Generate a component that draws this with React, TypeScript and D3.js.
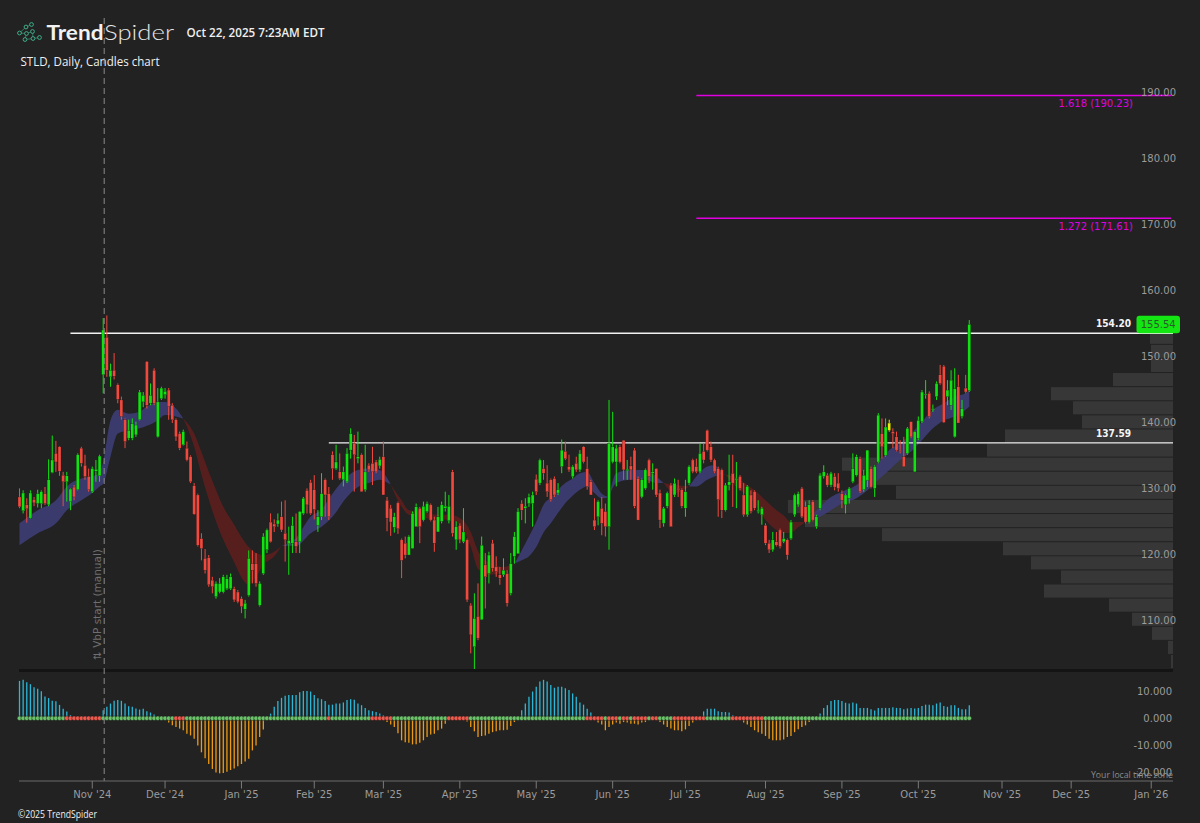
import React from 'react';
import * as d3 from 'd3';

const W = 1200;
const H = 823;

// trading calendar
const firstSession = '2024-10-04';
const lastCalendarDay = '2026-01-31';
const marketHolidays = [
  '2024-11-28', '2024-12-25', '2025-01-01', '2025-01-09', '2025-01-20', '2025-02-17', '2025-04-18',
  '2025-05-26', '2025-06-19', '2025-07-04', '2025-09-01', '2025-11-27', '2025-12-25', '2026-01-01', '2026-01-19',
];

type Bar = [number, number, number, number]; // open, high, low, close

const oct2024: Bar[] = [
  [129.4, 130.7, 127.7, 127.9], [127.3, 130.4, 126.9, 130.0], [128.2, 129.2, 125.5, 127.6], [126.2, 130.4, 126.1, 130.0], [129.0, 129.4, 128.0, 128.5],
  [128.4, 130.5, 127.8, 129.9], [128.4, 130.4, 127.7, 130.2], [129.9, 130.9, 128.2, 128.4], [128.2, 135.1, 128.0, 132.0], [133.1, 138.7, 133.0, 135.0],
  [136.0, 137.9, 133.2, 134.7], [137.0, 137.1, 132.6, 133.3], [132.7, 133.2, 128.0, 131.7], [131.7, 133.2, 128.7, 132.6], [128.7, 130.7, 127.4, 130.6],
  [130.9, 131.2, 128.9, 129.4], [130.5, 136.0, 130.4, 135.8], [136.8, 137.0, 134.0, 134.5], [134.2, 135.8, 132.0, 132.5], [132.5, 133.7, 130.2, 130.5],
];
const nov2024: Bar[] = [
  [130.2, 134.0, 130.0, 133.7], [133.3, 135.0, 131.7, 133.6], [132.6, 135.8, 131.7, 135.6], [147.9, 156.5, 145.1, 154.7], [153.6, 156.9, 147.6, 148.6],
  [147.6, 149.6, 146.1, 148.6], [148.6, 151.2, 147.2, 147.7], [146.4, 146.6, 143.6, 144.2], [144.1, 144.6, 141.1, 141.6], [141.1, 141.3, 136.8, 137.8],
  [138.3, 141.1, 138.0, 139.5], [138.3, 141.3, 138.0, 140.5], [138.8, 140.8, 138.5, 140.3], [141.1, 145.6, 141.0, 145.3], [143.8, 145.3, 143.0, 144.8],
  [149.9, 150.0, 142.8, 143.3], [143.6, 146.6, 143.3, 144.8], [148.6, 148.9, 143.3, 143.6], [138.5, 145.9, 138.4, 143.8], [144.3, 146.1, 144.1, 145.9],
];
const dec2024: Bar[] = [
  [144.9, 145.9, 144.3, 145.4], [145.6, 145.9, 141.1, 143.1], [143.3, 143.6, 140.6, 141.1], [141.1, 141.3, 137.9, 138.5], [139.0, 139.3, 136.5, 136.8],
  [137.3, 139.6, 137.2, 139.3], [136.8, 137.8, 134.8, 135.0], [135.5, 135.7, 131.5, 131.7], [131.1, 131.5, 126.7, 126.8], [129.7, 129.9, 121.9, 122.1],
  [123.1, 123.9, 119.8, 121.6], [120.1, 121.5, 117.8, 118.3], [120.2, 120.6, 115.8, 116.1], [116.8, 117.3, 114.8, 115.8], [114.3, 116.6, 114.0, 116.3],
  [115.0, 117.1, 114.8, 116.3], [115.0, 117.6, 114.8, 117.3], [115.5, 117.6, 115.3, 117.0], [115.5, 117.8, 115.3, 117.3], [115.5, 115.8, 113.5, 113.8],
  [115.0, 115.3, 113.3, 113.5],
];
const jan2025: Bar[] = [
  [114.0, 114.3, 111.8, 112.8], [112.4, 113.8, 111.0, 113.3], [114.5, 121.3, 114.3, 120.1], [119.3, 121.3, 116.3, 118.3], [119.3, 120.9, 115.8, 116.3],
  [113.0, 116.6, 112.8, 116.3], [117.8, 123.9, 117.6, 123.4], [121.4, 124.6, 120.9, 124.4], [125.6, 126.9, 122.5, 122.6], [125.3, 126.0, 124.1, 124.9],
  [125.3, 126.9, 124.9, 125.9], [126.4, 128.7, 124.1, 124.4], [123.9, 128.9, 119.6, 122.9], [122.3, 124.9, 117.6, 122.8], [122.4, 126.4, 120.9, 125.1],
  [122.6, 126.9, 120.9, 121.9], [122.6, 127.2, 120.9, 127.2], [126.9, 129.4, 126.7, 129.2], [130.4, 130.7, 126.9, 128.2], [131.6, 132.0, 126.7, 126.9],
];
const feb2025: Bar[] = [
  [130.5, 132.7, 126.0, 127.5], [125.1, 127.4, 124.1, 126.4], [126.4, 133.0, 125.9, 129.9], [132.0, 132.2, 126.4, 129.7], [129.9, 130.9, 125.9, 126.4],
  [135.8, 136.3, 132.0, 133.7], [133.7, 137.3, 133.5, 134.7], [133.2, 136.0, 132.0, 132.2], [132.0, 134.0, 131.0, 133.2], [131.7, 136.8, 131.5, 136.0],
  [136.5, 139.8, 135.2, 139.0], [137.5, 138.8, 130.2, 135.8], [135.2, 139.3, 134.5, 135.5], [135.8, 136.0, 130.2, 130.2], [130.5, 137.3, 130.2, 133.2],
  [134.2, 134.5, 133.2, 133.5], [134.5, 137.0, 131.2, 133.2], [134.7, 135.0, 133.0, 133.2], [134.1, 135.5, 133.7, 135.1],
];
const mar2025: Bar[] = [
  [135.5, 137.8, 129.7, 129.7], [128.9, 129.4, 124.2, 126.2], [127.7, 128.2, 123.5, 125.6], [124.8, 127.0, 124.0, 126.4], [128.5, 128.7, 123.8, 124.6],
  [122.9, 123.1, 117.1, 119.8], [122.4, 123.4, 120.1, 120.6], [120.6, 123.6, 120.6, 123.4], [121.6, 127.2, 121.6, 126.9], [124.9, 128.4, 124.9, 127.9],
  [127.7, 127.9, 122.4, 124.9], [125.9, 128.7, 125.7, 128.0], [127.2, 128.7, 127.0, 128.4], [128.2, 128.4, 125.7, 125.9], [125.9, 126.4, 121.1, 122.4],
  [124.1, 127.9, 124.1, 126.4], [125.7, 128.7, 125.4, 128.2], [127.7, 130.2, 127.2, 128.0], [125.8, 129.7, 125.4, 128.0], [133.2, 133.5, 123.4, 123.9],
  [122.9, 125.7, 121.4, 124.9],
];
const apr2025: Bar[] = [
  [125.1, 125.4, 122.4, 122.9], [122.6, 127.7, 122.4, 124.1], [122.9, 123.1, 113.5, 113.8], [113.0, 113.3, 105.7, 108.5], [106.7, 114.8, 103.2, 111.0],
  [111.3, 116.3, 107.7, 108.0], [110.8, 123.4, 110.8, 122.1], [119.1, 120.9, 112.5, 117.3], [117.8, 121.1, 116.3, 120.6], [122.4, 122.9, 118.1, 118.6],
  [118.8, 120.4, 117.3, 118.1], [117.6, 118.8, 116.1, 117.1], [117.6, 120.1, 117.3, 118.3], [117.8, 118.3, 112.8, 113.3], [114.8, 120.9, 114.5, 119.3],
  [120.4, 124.1, 119.3, 123.4], [120.8, 127.7, 120.8, 127.2], [128.4, 128.9, 125.9, 127.4], [127.7, 129.2, 125.4, 128.0], [128.4, 129.9, 127.9, 129.4],
  [128.4, 130.2, 124.9, 129.7],
];
const may2025: Bar[] = [
  [132.1, 132.8, 129.7, 130.2], [131.5, 135.2, 131.2, 135.0], [133.7, 135.0, 132.0, 133.0], [131.5, 134.2, 129.4, 130.2], [132.0, 132.2, 128.7, 129.0],
  [132.2, 132.5, 129.4, 129.7], [130.0, 131.5, 129.7, 130.5], [134.0, 138.1, 133.0, 136.5], [136.3, 137.8, 135.0, 135.2], [134.0, 135.8, 133.2, 133.5],
  [132.5, 134.2, 132.2, 134.0], [134.5, 135.5, 133.2, 133.5], [133.5, 136.5, 133.2, 136.0], [137.0, 137.1, 134.5, 134.7], [133.7, 135.5, 130.5, 131.0],
  [131.7, 132.0, 129.7, 129.7], [125.9, 129.2, 124.4, 124.9], [126.4, 128.9, 125.1, 128.7], [127.7, 129.4, 123.6, 125.4], [127.2, 128.4, 123.4, 124.9],
  [124.9, 144.1, 121.4, 137.5],
];
const jun2025: Bar[] = [
  [134.7, 142.3, 134.5, 137.0], [134.7, 137.3, 131.0, 136.8], [137.0, 137.3, 134.5, 134.7], [138.0, 138.0, 132.0, 133.5], [133.4, 135.0, 132.0, 133.6],
  [134.1, 135.5, 132.0, 133.5], [136.5, 136.8, 127.7, 128.0], [132.2, 132.5, 125.9, 125.9], [129.4, 132.2, 129.2, 132.0], [130.7, 133.7, 130.5, 133.5],
  [135.0, 135.2, 131.5, 132.5], [133.0, 134.5, 130.5, 133.2], [133.7, 133.7, 129.4, 129.7], [130.0, 130.5, 124.7, 125.9], [125.4, 127.9, 124.9, 127.7],
  [128.0, 130.2, 127.7, 130.0], [131.2, 131.5, 124.9, 124.9], [129.7, 132.2, 129.4, 131.5], [130.7, 132.0, 129.4, 130.5], [130.5, 130.7, 127.7, 128.0],
];
const jul2025: Bar[] = [
  [127.7, 132.0, 126.4, 130.2], [131.5, 134.2, 131.2, 134.0], [135.0, 135.2, 133.0, 133.2], [134.0, 135.2, 133.0, 133.2], [133.2, 137.5, 133.0, 136.0],
  [136.3, 137.5, 134.5, 135.0], [139.5, 139.6, 136.3, 136.5], [137.0, 137.8, 134.7, 135.0], [135.0, 135.2, 133.0, 133.2], [133.7, 134.0, 126.4, 129.0],
  [133.5, 133.7, 126.2, 127.4], [127.4, 131.5, 127.2, 131.2], [131.2, 135.8, 130.4, 131.7], [133.0, 135.8, 127.9, 131.5], [132.0, 134.7, 127.7, 132.2],
  [132.5, 132.7, 130.4, 130.7], [129.7, 131.5, 126.4, 126.7], [126.7, 131.2, 126.4, 131.0], [129.7, 130.4, 126.9, 127.2], [130.2, 130.4, 127.4, 127.7],
  [127.2, 128.9, 126.9, 127.4], [126.7, 127.9, 125.2, 127.7],
];
const aug2025: Bar[] = [
  [125.1, 125.4, 122.1, 122.4], [122.4, 122.9, 120.9, 121.4], [121.4, 124.1, 121.1, 122.9], [122.6, 124.1, 121.9, 122.1], [124.4, 124.6, 121.6, 121.9],
  [122.6, 124.1, 122.4, 123.1], [122.9, 123.1, 119.9, 120.6], [123.1, 125.9, 122.9, 125.6], [126.7, 129.9, 126.4, 129.7], [128.2, 130.2, 127.9, 129.9],
  [130.7, 130.9, 126.2, 126.4], [127.9, 128.7, 125.4, 125.6], [125.6, 128.9, 125.4, 128.2], [128.7, 128.9, 125.7, 125.9], [124.9, 126.7, 124.6, 126.4],
  [127.7, 133.0, 127.4, 132.7], [132.5, 134.2, 132.2, 133.2], [132.7, 133.0, 130.9, 131.2], [131.2, 133.2, 130.9, 133.0], [132.5, 133.0, 130.4, 130.9],
  [131.5, 133.0, 130.2, 130.7],
];
const sep2025: Bar[] = [
  [129.9, 130.4, 127.7, 128.9], [128.2, 129.9, 126.9, 129.7], [129.2, 130.9, 128.4, 130.7], [131.7, 136.0, 131.5, 133.7], [132.7, 135.8, 132.5, 135.5],
  [135.2, 135.5, 130.0, 130.2], [130.5, 133.5, 130.2, 132.7], [131.9, 136.5, 130.9, 136.5], [133.7, 134.0, 130.7, 130.9], [130.7, 134.2, 129.4, 134.0],
  [134.7, 142.1, 134.5, 141.8], [139.0, 141.3, 135.2, 137.0], [135.7, 141.3, 135.5, 140.0], [140.6, 141.1, 139.3, 139.5], [139.3, 139.8, 136.8, 139.0],
  [138.5, 139.3, 136.3, 136.5], [136.5, 138.0, 136.0, 136.3], [135.5, 138.5, 134.0, 134.0], [136.0, 140.0, 135.8, 139.8], [140.8, 140.8, 138.3, 138.5],
  [133.2, 139.3, 133.2, 139.3],
];
const oct2025: Bar[] = [
  [138.3, 141.6, 138.0, 141.0], [140.8, 145.6, 140.6, 145.3], [144.9, 147.1, 144.3, 145.0], [145.1, 145.4, 141.3, 141.6], [142.6, 143.4, 142.3, 142.8],
  [144.6, 146.9, 144.1, 146.6], [147.9, 149.4, 146.4, 146.6], [149.2, 149.4, 140.6, 140.7], [144.6, 147.1, 143.3, 145.6], [143.3, 148.6, 142.6, 147.1],
  [138.5, 148.9, 138.4, 145.8], [146.1, 147.9, 140.6, 140.6], [141.6, 144.1, 141.3, 142.8], [145.9, 147.9, 145.1, 145.3], [145.5, 156.2, 145.3, 155.54],
];

const candles: Bar[] = [
  ...oct2024, ...nov2024, ...dec2024, ...jan2025, ...feb2025, ...mar2025, ...apr2025,
  ...may2025, ...jun2025, ...jul2025, ...aug2025, ...sep2025, ...oct2025,
];
const yellowBars = [239];

// moving-average cloud, read at sample bars (fast / slow)
const bandBars = [
  0, 5, 10, 13, 17, 20, 22, 23, 25, 27, 30, 33, 35, 38, 40, 43, 45,
  48, 50, 53, 56, 59, 61, 63, 65, 67, 70, 72,
  76, 80, 83, 86, 90, 93, 96, 99, 101, 102,
  105, 107, 110, 115, 118, 121, 124, 126, 129, 133, 136,
  138, 140, 142, 144, 146, 148, 150, 152, 154, 156, 158, 160, 162,
  164, 168, 172, 175, 177,
  180, 184,
  186, 189, 191, 193, 194,
  196, 198, 200, 202, 205, 208, 210, 212, 214, 216,
  220, 223, 226, 230, 233, 236, 239, 242, 245, 248, 251, 254, 257, 260, 261,
];
const bandFast = [
  125.4, 127.4, 128.9, 131.0, 132.2, 132.5, 133.2, 134.7, 141.0, 142.6, 142.0, 142.3, 143.1, 143.8, 143.8, 142.8, 141.3,
  137.0, 132.8, 127.3, 122.9, 119.5, 117.2, 116.1, 117.3, 119.1, 120.4, 122.0,
  123.2, 126.4, 127.5, 129.9, 132.5, 133.5, 133.7, 133.5, 132.3, 131.3,
  127.9, 126.7, 126.4, 125.9, 126.0, 125.1, 121.9, 118.5, 117.6, 117.9, 119.3,
  121.3, 123.4, 125.6, 128.2, 129.3, 130.5, 131.5, 132.2, 133.0, 133.2, 131.5, 129.9, 129.4,
  133.0, 133.5, 133.5, 132.5, 131.5,
  130.0, 131.0,
  132.5, 134.0, 134.2, 133.0, 132.8,
  131.5, 130.4, 129.7, 128.4, 125.9, 124.4, 123.9, 124.0, 124.8, 125.6,
  127.9, 129.4, 130.2, 131.2, 132.7, 134.5, 136.5, 137.5, 139.0, 140.8, 142.6, 143.6, 144.6, 145.1, 145.6,
];
const bandSlow = [
  122.1, 123.9, 125.4, 127.4, 128.9, 130.0, 131.0, 131.4, 135.5, 139.0, 139.5, 139.8, 140.2, 141.0, 141.8, 141.6, 141.3,
  139.0, 136.2, 131.8, 127.9, 125.2, 123.3, 121.8, 120.9, 120.6, 121.1, 122.0,
  122.0, 123.9, 124.9, 126.4, 129.4, 130.9, 131.5, 132.0, 131.6, 131.3,
  128.9, 127.4, 127.2, 126.7, 126.7, 126.2, 124.1, 121.2, 119.4, 118.8, 119.3,
  119.8, 120.4, 121.8, 124.0, 125.4, 127.0, 128.5, 129.6, 130.5, 131.0, 130.0, 129.2, 129.4,
  131.5, 132.0, 132.0, 131.5, 131.5,
  131.2, 131.0,
  131.0, 132.0, 132.5, 132.8, 132.8,
  132.5, 132.0, 131.2, 130.4, 128.9, 127.4, 126.6, 125.6, 125.6, 125.6,
  126.4, 127.4, 128.4, 129.2, 130.4, 132.0, 133.5, 135.0, 136.3, 138.0, 139.8, 141.0, 141.6, 142.6, 143.1,
];

// squeeze momentum histogram, one value per candle
const momentum = [
  13.7, 14.1, 13.2, 12.5, 11.4, 10.8, 9.9, 8.0, 7.4, 6.4, 6.2, 4.9, 3.5, 2.5, 1.2, 0.6, 0.4, 0.3, 0.2, 0.2, 0.3, 0.4, 0.8,
  2.9, 4.2, 5.4, 6.4, 6.7, 6.4, 5.4, 4.4, 4.2, 3.6, 3.2, 3.5, 2.6, 2.1, 1.4, 0.6, 0.3, -0.4,
  -1.6, -2.6, -3.2, -3.8, -4.4, -5.7, -6.3, -7.5, -10.0, -12.5, -14.7, -16.8, -18.6, -19.9, -20.2, -20.1, -19.6, -19.0,
  -18.4, -17.6, -16.8, -15.9, -14.9, -11.8, -10.0, -6.9, -4.1, -0.5,
  1.7, 4.2, 6.3, 7.5, 8.3, 8.5, 8.5, 8.5, 9.5, 10.0, 10.0, 9.8, 8.5, 7.3, 7.0, 6.3, 5.0, 5.0, 5.4, 5.4, 5.8, 6.7, 7.0,
  6.8, 5.4, 4.8, 3.8, 2.9, 2.6, 2.3, 1.7, 1.1,
  -1.4, -2.3, -3.2, -5.5,
  -8.1, -8.8, -9.0, -9.6, -9.5, -9.0, -8.1, -6.9, -6.0, -5.7, -4.4, -3.8, -2.0,
  -0.5, -0.3, -0.2, -0.3, -0.6, -1.2,
  -3.2, -4.8, -6.9, -6.5, -6.3, -5.7, -5.1, -4.8, -4.4, -4.4, -4.2, -2.8, -1.4, -0.3,
  2.9, 5.4, 7.9, 9.8, 11.6, 13.5, 14.1, 13.5, 12.2, 11.2, 11.6, 11.6, 11.0, 10.4, 9.1, 7.9, 5.8, 5.0, 3.5, 2.1, 0.3,
  -1.6, -2.3, -4.4, -3.2, -2.3, -1.6, -2.0, -1.4, -1.6, -2.0, -2.0, -2.3, -1.6, -1.4, -0.3, -0.2, -0.3, -1.4, -2.3,
  -3.2, -3.8, -4.4, -4.4, -4.8, -4.1, -2.8, -1.6, -0.2, 0.4,
  2.5, 3.5, 3.5, 3.5, 2.6, 2.3, 2.3, 2.1, 1.1, 0.3,
  -0.5, -1.6, -2.3, -3.2, -4.4, -5.1, -5.7, -6.5, -7.5, -8.1, -8.1, -8.1, -7.8, -6.9, -6.5, -5.1, -4.0, -3.2, -2.6,
  -1.4, -0.3, 0.5,
  1.7, 3.8, 4.8, 6.3, 6.7, 6.7, 6.3, 5.7, 5.4, 5.8, 5.4, 3.8, 3.8, 3.8, 3.3, 2.8, 3.8, 3.8, 3.8, 3.8, 4.0,
  3.8, 3.8, 3.3, 3.6, 3.8, 3.6, 3.8, 4.5, 5.0, 5.0, 4.8, 5.4, 5.8, 4.5, 4.2, 4.8, 4.8, 3.8, 3.3, 3.3, 4.8,
];
// candle ranges where the squeeze is on (red dots)
const squeezeOn: [number, number][] = [
  [13, 22], [43, 45], [85, 85], [97, 102], [118, 123], [156, 160], [162, 164], [166, 167],
  [169, 172], [174, 175], [180, 188], [196, 204],
];

// volume by price, from the lowest bin up (millions of shares)
const vbpLow = 103.32;
const vbpStep = 2.136;
const vbpVolume = [0.2, 0.5, 2.1, 4.1, 6.4, 12.9, 11.2, 14.2, 17.0, 29.1, 36.8, 38.5, 27.7, 30.7, 33.1, 18.6, 16.8, 9.1, 10.0, 12.2, 6.0, 2.2, 2.2, 2.3];
const vbpStart = '2024-11-06';

const levelLines = [
  { price: 154.2, from: '2024-10-24' },
  { price: 137.59, from: '2025-02-07' },
];
const fibLevels = [
  { ratio: '1.618', price: 190.23 },
  { ratio: '1.272', price: 171.61 },
];
const fibFrom = '2025-07-07';
const oscTicks = [-20, -10, 0, 10];

const parse = d3.timeParse('%Y-%m-%d');
const fmt = d3.timeFormat('%Y-%m-%d');
const sessions = d3.timeDay
  .range(parse(firstSession)!, d3.timeDay.offset(parse(lastCalendarDay)!, 1))
  .filter(d => d.getDay() !== 0 && d.getDay() !== 6 && !marketHolidays.includes(fmt(d)));
const sessionIndex = (s: string) => sessions.findIndex(d => fmt(d) === s);

const x = d3.scaleLinear().domain([0, 100]).range([19.5, 19.5 + 363.9]);
const y = d3.scaleLinear().domain([110, 190]).range([625, 97]);
const yOsc = d3.scaleLinear().domain([-10, 10]).range([745.5, 691]);
const vbpW = d3.scaleLinear().domain([0, d3.max(vbpVolume)!]).range([0, 385]);

const UP = '#10e310';
const DOWN = '#f2493e';
const AXIS_TXT = '#9b9b9b';
const MAGENTA = '#e000e0';
const PANE_L = 19;
const PANE_R = 1173;

type BandPt = { i: number; f: number; s: number };

export default function App() {
  const bandPts: BandPt[] = bandBars.map((b, k) => ({ i: b, f: bandFast[k], s: bandSlow[k] }));
  const bandSegs: { pts: BandPt[]; up: boolean }[] = [];
  let run: BandPt[] = [bandPts[0]];
  bandPts.slice(1).forEach(p => {
    run.push(p);
    if (p.f === p.s) {
      bandSegs.push({ pts: run, up: run.some(q => q.f > q.s) });
      run = [p];
    }
  });
  if (run.length > 1) bandSegs.push({ pts: run, up: run.some(q => q.f > q.s) });

  const area = d3.area<BandPt>()
    .x(d => x(d.i))
    .y0(d => y(d.f))
    .y1(d => y(d.s))
    .curve(d3.curveMonotoneX);

  const monthStarts = d3.timeMonth.range(parse('2024-11-01')!, parse('2026-01-31')!);
  const monthTicks = monthStarts.map(m => ({
    i: sessions.findIndex(d => d >= m),
    label: d3.timeFormat("%b '%y")(m),
  }));

  const priceTicks = y.ticks(8);
  const lastClose = candles[candles.length - 1][3];
  const bodyW = 3;
  const vbpX = x(sessionIndex(vbpStart)) + 1;
  const isSqueeze = (i: number) => squeezeOn.some(([a, b]) => i >= a && i <= b);

  const logoNodes = [[19.5, 33], [26, 27], [31.5, 24.5], [26.5, 33.5], [32.5, 31.5], [25, 39.5], [33, 38.5], [39.5, 37.5]];
  const logoLinks = [[0, 1], [1, 2], [0, 3], [3, 4], [3, 5], [5, 6], [6, 7], [4, 6]];

  return (
    <div style={{ position: 'absolute', left: 0, top: 0, width: W, height: H, background: '#222222' }}>
      <svg width={W} height={H} viewBox={`0 0 ${W} ${H}`} style={{ display: 'block' }}>
        <defs>
          <clipPath id="price-pane">
            <rect x={17} y={0} width={PANE_R - 17 + 2} height={669} />
          </clipPath>
        </defs>
        <rect x={0} y={0} width={W} height={H} fill="#222222" />

        {/* header */}
        <g stroke="#3fae8a" strokeWidth={1} fill="none">
          {logoLinks.map(([a, b], k) => (
            <line key={k} x1={logoNodes[a][0]} y1={logoNodes[a][1]} x2={logoNodes[b][0]} y2={logoNodes[b][1]} strokeOpacity={0.6} />
          ))}
          {logoNodes.map(([cx, cy], k) => (
            <circle key={k} cx={cx} cy={cy} r={1.9} fill="#222222" />
          ))}
        </g>
        <text x={46.5} y={39.5} fontFamily="Lato" fontWeight={700} fontSize={21} fill="#f2f2f2" textLength={57} lengthAdjust="spacingAndGlyphs">Trend</text>
        <text x={104} y={39.5} fontFamily="Lato" fontWeight={300} fontSize={21} fill="#e6e6e6" textLength={70} lengthAdjust="spacingAndGlyphs">Spider</text>
        <text x={186.5} y={36.5} fontFamily="Open Sans" fontWeight={600} fontSize={12} fill="#f0f0f0" textLength={138} lengthAdjust="spacingAndGlyphs">Oct 22, 2025 7:23AM EDT</text>
        <text x={20.5} y={65.5} fontFamily="Open Sans" fontSize={12} fill="#f0f0f0" textLength={139} lengthAdjust="spacingAndGlyphs">STLD, Daily, Candles chart</text>

        {/* price pane */}
        <g clipPath="url(#price-pane)">
          {vbpVolume.map((v, k) => {
            const lo = vbpLow + k * vbpStep;
            const top = y(lo + vbpStep);
            return (
              <rect key={k} x={PANE_R - vbpW(v)} y={top} width={vbpW(v)} height={y(lo) - top - 1} fill="#373737" />
            );
          })}

          {bandSegs.map((s, k) => (
            <path key={k} d={area(s.pts) ?? ''} fill={s.up ? '#3d3d74' : '#5c1e1e'} fillOpacity={0.92} />
          ))}

          {levelLines.map(l => (
            <line key={l.price} x1={x(sessionIndex(l.from))} x2={PANE_R} y1={y(l.price)} y2={y(l.price)} stroke="#f2f2f2" strokeWidth={1.4} />
          ))}
          {fibLevels.map(f => (
            <line key={f.price} x1={x(sessionIndex(fibFrom))} x2={PANE_R - 2} y1={y(f.price)} y2={y(f.price)} stroke={MAGENTA} strokeWidth={1.5} />
          ))}

          {candles.map(([o, h, l, c], i) => {
            const col = yellowBars.includes(i) ? '#e8e80a' : c >= o ? UP : DOWN;
            const top = y(Math.max(o, c));
            const bh = Math.max(1, y(Math.min(o, c)) - top);
            return (
              <g key={i}>
                <line x1={x(i)} x2={x(i)} y1={y(h)} y2={y(l)} stroke={col} strokeWidth={1} />
                <rect x={x(i) - bodyW / 2} y={top} width={bodyW} height={bh} fill={col} stroke="#1a1a1a" strokeWidth={0.3} />
              </g>
            );
          })}
        </g>

        {/* level and fib labels */}
        {levelLines.map(l => (
          <text key={l.price} x={1131} y={y(l.price) - 6} textAnchor="end" fontFamily="DejaVu Sans" fontWeight={700} fontSize={10} fill="#f5f5f5" textLength={35} lengthAdjust="spacingAndGlyphs">
            {l.price.toFixed(2)}
          </text>
        ))}
        {fibLevels.map(f => (
          <text key={f.price} x={1133} y={y(f.price) + 12} textAnchor="end" fontFamily="DejaVu Sans" fontSize={10} fill={MAGENTA}>
            {`${f.ratio} (${f.price.toFixed(2)})`}
          </text>
        ))}

        {/* price axis */}
        {priceTicks.map(t => (
          <text key={t} x={1176} y={y(t) - 1.5} textAnchor="end" fontFamily="DejaVu Sans" fontSize={10} fill={AXIS_TXT}>
            {t.toFixed(2)}
          </text>
        ))}
        <rect x={1136.5} y={y(lastClose) - 8.8} width={43.5} height={17.5} rx={3} fill="#14e614" />
        <text x={1158.2} y={y(lastClose) + 3.6} textAnchor="middle" fontFamily="DejaVu Sans" fontSize={10} fill="#2a5a2a">
          {lastClose.toFixed(2)}
        </text>

        {/* pane separator */}
        <rect x={PANE_L} y={669} width={PANE_R - PANE_L} height={3} fill="#141414" />

        {/* oscillator */}
        {momentum.map((v, i) => (
          <line key={i} x1={x(i)} x2={x(i)} y1={yOsc(0)} y2={yOsc(v)} stroke={v >= 0 ? '#2bb7d7' : '#ee9a12'} strokeWidth={1.3} />
        ))}
        {momentum.map((_, i) => (
          <circle key={i} cx={x(i)} cy={yOsc(0)} r={2.3} fill={isSqueeze(i) ? '#ef5a4e' : '#6cc46a'} stroke="#1b1b1b" strokeWidth={0.5} />
        ))}
        {oscTicks.map(t => (
          <text key={t} x={1172} y={yOsc(t) + 3.6} textAnchor="end" fontFamily="DejaVu Sans" fontSize={10} fill={AXIS_TXT}>
            {t.toFixed(3)}
          </text>
        ))}
        <text x={1173} y={777.5} textAnchor="end" fontFamily="Open Sans" fontSize={9.5} fill="#8c8c8c" textLength={82} lengthAdjust="spacingAndGlyphs">Your local time zone</text>

        {/* VbP start marker */}
        <line x1={vbpX} x2={vbpX} y1={18} y2={781} stroke="#8a8a8a" strokeWidth={1} strokeDasharray="6 4" />
        <text transform={`translate(100.5, 660) rotate(-90)`} fontFamily="DejaVu Sans" fontSize={10.5} fill="#6f6f6f">⇅ VbP start (manual)</text>

        {/* time axis */}
        <line x1={PANE_L} x2={PANE_R} y1={781} y2={781} stroke="#6a6a6a" strokeWidth={1} />
        {monthTicks.map(t => (
          <g key={t.label}>
            <line x1={x(t.i)} x2={x(t.i)} y1={781} y2={788.5} stroke="#7a7a7a" strokeWidth={1} />
            <text x={x(t.i)} y={798} textAnchor="middle" fontFamily="DejaVu Sans" fontSize={10} fill={AXIS_TXT}>{t.label}</text>
          </g>
        ))}

        <text x={18} y={818} fontFamily="Open Sans" fontSize={11} fill="#f0f0f0" textLength={79} lengthAdjust="spacingAndGlyphs">©2025 TrendSpider</text>
      </svg>
    </div>
  );
}
